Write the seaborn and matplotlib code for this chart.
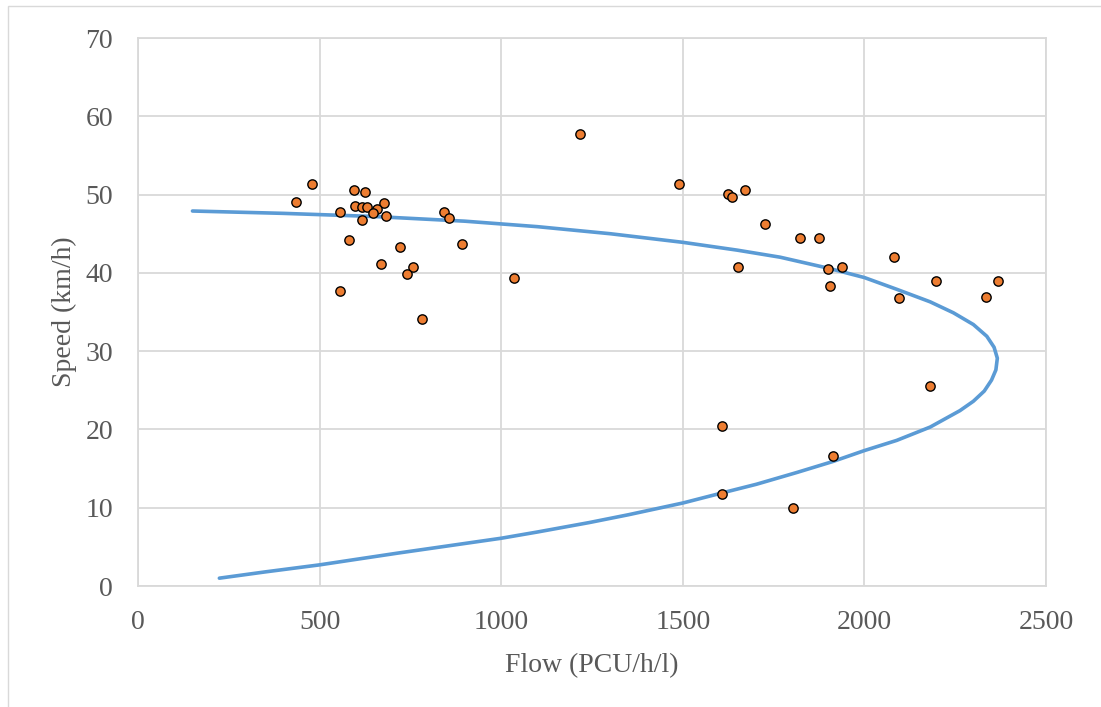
import matplotlib
matplotlib.use("Agg")
import matplotlib.pyplot as plt
import seaborn as sns
import pandas as pd
from matplotlib.patches import Rectangle

# Observed data (flow, speed)
obs_flow = [480, 434, 596, 625, 598, 618, 630, 678, 657, 646, 556, 617, 684,
            843, 856, 581, 720, 892, 668, 757, 742, 556, 782,
            1218, 1489, 1625, 1635, 1670, 1725, 1652, 1036,
            1822, 1875, 1901, 1938, 1904, 2081, 2198, 2369, 2095, 2336,
            2181, 1607, 1913, 1609, 1804]
obs_speed = [51.4, 49.1, 50.6, 50.3, 48.6, 48.4, 48.4, 48.9, 48.1, 47.6, 47.8, 46.7, 47.2,
             47.8, 47.0, 44.2, 43.3, 43.7, 41.1, 40.8, 39.8, 37.7, 34.1,
             57.7, 51.4, 50.1, 49.7, 50.6, 46.2, 40.8, 39.3,
             44.5, 44.4, 40.5, 40.7, 38.3, 42.0, 39.0, 39.0, 36.8, 36.9,
             25.5, 20.4, 16.6, 11.7, 9.9]

# Fitted speed-flow curve
curve_flow = [150, 400, 650, 900, 1100, 1300, 1500, 1650, 1768, 1900, 2000, 2089,
              2181, 2245, 2300, 2337, 2357, 2366, 2362, 2350, 2330, 2300, 2263,
              2181, 2089, 2000, 1913, 1814, 1703, 1609, 1500, 1350, 1242, 1100,
              1000, 850, 715, 600, 500, 350, 224]
curve_speed = [47.9, 47.6, 47.2, 46.6, 45.9, 45.0, 43.9, 42.9, 42.0, 40.6, 39.4, 37.9,
               36.3, 34.9, 33.4, 31.9, 30.5, 29.1, 27.6, 26.3, 24.9, 23.6, 22.4,
               20.3, 18.6, 17.3, 15.9, 14.5, 13.0, 11.9, 10.6, 9.1, 8.1, 6.9,
               6.1, 5.1, 4.2, 3.4, 2.7, 1.8, 1.0]

x_ticks = [0, 500, 1000, 1500, 2000, 2500]
y_ticks = [0, 10, 20, 30, 40, 50, 60, 70]

sns.set_style("white")
plt.rcParams['font.family'] = ['Liberation Serif', 'DejaVu Serif']

fig = plt.figure(figsize=(11.01, 7.07), dpi=100)
ax = fig.add_axes([138/1101, 1-586/707, (1046-138)/1101, (586-38)/707])

obs = pd.DataFrame({"flow": obs_flow, "speed": obs_speed})
curve = pd.DataFrame({"flow": curve_flow, "speed": curve_speed})

sns.lineplot(data=curve, x="flow", y="speed", sort=False, estimator=None,
             color="#5B9BD5", linewidth=2.6, ax=ax, zorder=3)
sns.scatterplot(data=obs, x="flow", y="speed", color="#ED7D31", edgecolor="black",
                linewidth=1.0, s=45, ax=ax, zorder=4)

ax.set_xlim(0, 2500)
ax.set_ylim(0, 70)
ax.set_xticks(x_ticks)
ax.set_yticks(y_ticks)
ax.grid(True, color="#D9D9D9", linewidth=1.3)
ax.set_axisbelow(True)
for s in ax.spines.values():
    s.set_color("#D9D9D9")
    s.set_linewidth(1.3)
ax.tick_params(axis="both", length=0, labelsize=20, labelcolor="#595959")
ax.tick_params(axis="x", pad=17)
ax.tick_params(axis="y", pad=18)
ax.set_xlabel("Flow (PCU/h/l)", fontsize=20, color="#595959", labelpad=13)
ax.set_ylabel("Speed (km/h)", fontsize=20, color="#595959", labelpad=6)

# chart-area border
fig.patches.append(Rectangle((8/1101, -0.05), 1.1, 1 - 6/707 + 0.05,
                             transform=fig.transFigure, fill=False,
                             edgecolor="#D9D9D9", linewidth=1.0))

fig.savefig("out.png", dpi=100)
